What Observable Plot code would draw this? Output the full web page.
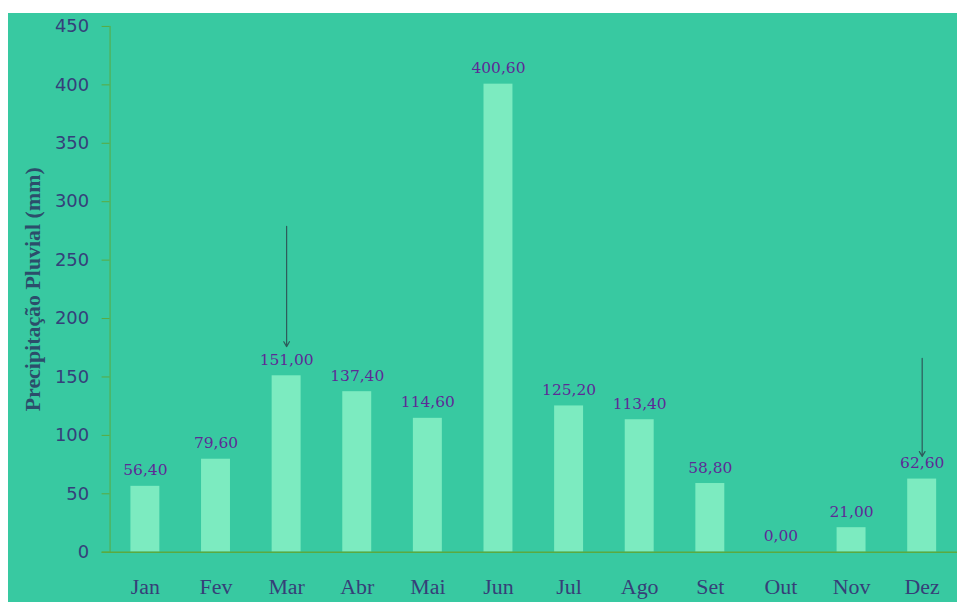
<!DOCTYPE html>
<html>
<head>
<meta charset="utf-8">
<script src="https://cdn.jsdelivr.net/npm/d3@7"></script>
<script src="https://cdn.jsdelivr.net/npm/@observablehq/plot@0.6"></script>
<style>
  html, body { margin: 0; padding: 0; background: #ffffff; }
  #wrap { position: absolute; left: 8px; top: 13px; width: 949px; height: 589px; background: #38C9A1; overflow: hidden; }
  #wrap svg { display: block; }
</style>
</head>
<body>
<div id="wrap"></div>
<script>
const months = ["Jan","Fev","Mar","Abr","Mai","Jun","Jul","Ago","Set","Out","Nov","Dez"];
const rainfall = [56.4, 79.6, 151.0, 137.4, 114.6, 400.6, 125.2, 113.4, 58.8, 0.0, 21.0, 62.6];
const yTicks = [0, 50, 100, 150, 200, 250, 300, 350, 400, 450];
const arrowMonths = ["Mar", "Dez"];
const arrowFrom = [279, 166];
const arrowTo = [176, 82];

const data = months.map((m, i) => ({month: m, value: rainfall[i], label: rainfall[i].toFixed(2).replace(".", ",")}));
const arrows = arrowMonths.map((m, i) => ({month: m, y1: arrowFrom[i], y2: arrowTo[i]}));

const axisColor = "#5BAA3F";
const chart = Plot.plot({
  width: 953,
  height: 589,
  marginLeft: 102,
  marginRight: 0,
  marginTop: 13,
  marginBottom: 48,
  style: {background: "transparent", overflow: "visible"},
  x: {domain: months, paddingInner: 0.59, paddingOuter: 0.295, round: false, label: null},
  y: {domain: [0, 450], label: null},
  marks: [
    Plot.barY(data, {x: "month", y: "value", fill: "#7CEBC0"}),
    Plot.text(data, {x: "month", y: "value", text: "label", dy: -11, lineAnchor: "bottom",
      fill: "#5E2A96", fontSize: 15.5, fontFamily: "DejaVu Serif"}),
    Plot.arrow(arrows, {x: "month", y1: "y1", y2: "y2", stroke: "#2E5A5A", strokeWidth: 1.2, headLength: 7}),
    Plot.axisY({ticks: yTicks, tickSize: 8, tickPadding: 13, stroke: axisColor, fill: "#35407A",
      fontSize: 18, fontFamily: "DejaVu Sans", label: null}),
    Plot.axisX({tickSize: 0, tickPadding: 26, fill: "#363F78", fontSize: 22, fontFamily: "Liberation Serif", label: null}),
    Plot.frame({anchor: "left", stroke: axisColor}),
    Plot.ruleY([0], {stroke: axisColor, strokeWidth: 1.5, insetLeft: -8}),
    Plot.text(["Precipitação Pluvial (mm)"], {frameAnchor: "left", textAnchor: "middle", dx: -77, rotate: -90,
      fill: "#2C4D6B", fontSize: 22, fontWeight: "bold", fontFamily: "Liberation Serif"})
  ]
});
document.getElementById("wrap").appendChild(chart);
</script>
</body>
</html>
